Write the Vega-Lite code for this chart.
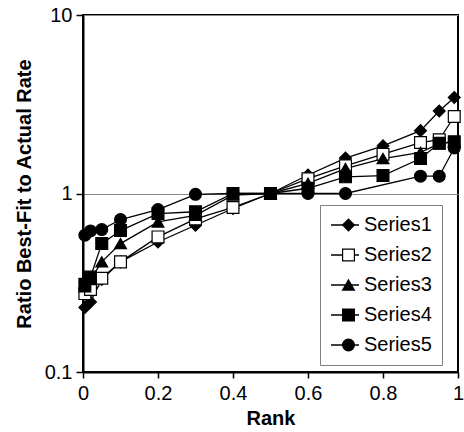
{
  "$schema": "https://vega.github.io/schema/vega-lite/v6.json",
  "width": 375,
  "height": 357,
  "autosize": {"type": "none"},
  "padding": {"left": 83, "top": 15, "right": 6, "bottom": 60},
  "background": "white",
  "config": {
    "font": "Liberation Sans",
    "view": {"stroke": "black", "strokeWidth": 2},
    "axis": {
      "labelFont": "Liberation Sans",
      "titleFont": "Liberation Sans",
      "labelFontSize": 20,
      "titleFontSize": 20,
      "titleFontWeight": "bold",
      "labelColor": "black",
      "titleColor": "black",
      "domainColor": "black",
      "domainWidth": 2,
      "tickColor": "black",
      "tickWidth": 1.5
    },
    "legend": {
      "labelFont": "Liberation Sans",
      "labelFontSize": 20,
      "labelColor": "black"
    }
  },
  "data": {
    "values": [
      {"series": "Series1", "rank": 0.005, "ratio": 0.23},
      {"series": "Series1", "rank": 0.02, "ratio": 0.247},
      {"series": "Series1", "rank": 0.05, "ratio": 0.33},
      {"series": "Series1", "rank": 0.1, "ratio": 0.414},
      {"series": "Series1", "rank": 0.2, "ratio": 0.535},
      {"series": "Series1", "rank": 0.3, "ratio": 0.664},
      {"series": "Series1", "rank": 0.4, "ratio": 0.824},
      {"series": "Series1", "rank": 0.5, "ratio": 1.0},
      {"series": "Series1", "rank": 0.6, "ratio": 1.27},
      {"series": "Series1", "rank": 0.7, "ratio": 1.58},
      {"series": "Series1", "rank": 0.8, "ratio": 1.85},
      {"series": "Series1", "rank": 0.9, "ratio": 2.25},
      {"series": "Series1", "rank": 0.95, "ratio": 2.9},
      {"series": "Series1", "rank": 0.99, "ratio": 3.45},
      {"series": "Series2", "rank": 0.005, "ratio": 0.275},
      {"series": "Series2", "rank": 0.02, "ratio": 0.29},
      {"series": "Series2", "rank": 0.05, "ratio": 0.335},
      {"series": "Series2", "rank": 0.1, "ratio": 0.414},
      {"series": "Series2", "rank": 0.2, "ratio": 0.571},
      {"series": "Series2", "rank": 0.3, "ratio": 0.72},
      {"series": "Series2", "rank": 0.4, "ratio": 0.835},
      {"series": "Series2", "rank": 0.5, "ratio": 1.0},
      {"series": "Series2", "rank": 0.6, "ratio": 1.21},
      {"series": "Series2", "rank": 0.7, "ratio": 1.43},
      {"series": "Series2", "rank": 0.8, "ratio": 1.66},
      {"series": "Series2", "rank": 0.9, "ratio": 1.93},
      {"series": "Series2", "rank": 0.95, "ratio": 2.0},
      {"series": "Series2", "rank": 0.99, "ratio": 2.7},
      {"series": "Series3", "rank": 0.005, "ratio": 0.3},
      {"series": "Series3", "rank": 0.02, "ratio": 0.33},
      {"series": "Series3", "rank": 0.05, "ratio": 0.414},
      {"series": "Series3", "rank": 0.1, "ratio": 0.524},
      {"series": "Series3", "rank": 0.2, "ratio": 0.693},
      {"series": "Series3", "rank": 0.3, "ratio": 0.755},
      {"series": "Series3", "rank": 0.4, "ratio": 0.98},
      {"series": "Series3", "rank": 0.5, "ratio": 1.0},
      {"series": "Series3", "rank": 0.6, "ratio": 1.14},
      {"series": "Series3", "rank": 0.7, "ratio": 1.38},
      {"series": "Series3", "rank": 0.8, "ratio": 1.57},
      {"series": "Series3", "rank": 0.9, "ratio": 1.7},
      {"series": "Series3", "rank": 0.95, "ratio": 1.9},
      {"series": "Series3", "rank": 0.99, "ratio": 1.95},
      {"series": "Series4", "rank": 0.005, "ratio": 0.31},
      {"series": "Series4", "rank": 0.02, "ratio": 0.34},
      {"series": "Series4", "rank": 0.05, "ratio": 0.524},
      {"series": "Series4", "rank": 0.1, "ratio": 0.62},
      {"series": "Series4", "rank": 0.2, "ratio": 0.772},
      {"series": "Series4", "rank": 0.3, "ratio": 0.79},
      {"series": "Series4", "rank": 0.4, "ratio": 1.0},
      {"series": "Series4", "rank": 0.5, "ratio": 1.0},
      {"series": "Series4", "rank": 0.6, "ratio": 1.07},
      {"series": "Series4", "rank": 0.7, "ratio": 1.24},
      {"series": "Series4", "rank": 0.8, "ratio": 1.26},
      {"series": "Series4", "rank": 0.9, "ratio": 1.57},
      {"series": "Series4", "rank": 0.95, "ratio": 1.91},
      {"series": "Series4", "rank": 0.99, "ratio": 1.95},
      {"series": "Series5", "rank": 0.005, "ratio": 0.584},
      {"series": "Series5", "rank": 0.02, "ratio": 0.617},
      {"series": "Series5", "rank": 0.05, "ratio": 0.628},
      {"series": "Series5", "rank": 0.1, "ratio": 0.715},
      {"series": "Series5", "rank": 0.2, "ratio": 0.813},
      {"series": "Series5", "rank": 0.3, "ratio": 0.99},
      {"series": "Series5", "rank": 0.4, "ratio": 1.0},
      {"series": "Series5", "rank": 0.5, "ratio": 1.0},
      {"series": "Series5", "rank": 0.6, "ratio": 1.0},
      {"series": "Series5", "rank": 0.7, "ratio": 1.0},
      {"series": "Series5", "rank": 0.9, "ratio": 1.25},
      {"series": "Series5", "rank": 0.95, "ratio": 1.25},
      {"series": "Series5", "rank": 0.99, "ratio": 1.8}
    ]
  },
  "encoding": {
    "x": {
      "field": "rank",
      "type": "quantitative",
      "scale": {"domain": [0, 1], "nice": false, "zero": false},
      "axis": {
        "title": "Rank",
        "values": [0, 0.2, 0.4, 0.6, 0.8, 1],
        "labelExpr": "'' + datum.value",
        "grid": false,
        "tickSize": 6,
        "labelPadding": 5,
        "titlePadding": 5,
        "labelFlush": false
      }
    },
    "y": {
      "field": "ratio",
      "type": "quantitative",
      "scale": {"type": "log", "domain": [0.1, 10], "nice": false},
      "axis": {
        "title": "Ratio Best-Fit to Actual Rate",
        "values": [0.1, 1, 10],
        "labelExpr": "'' + datum.value",
        "grid": true,
        "gridColor": "#888888",
        "gridWidth": 1,
        "tickSize": 7,
        "labelPadding": 4,
        "titlePadding": 10,
        "labelFlush": false
      }
    }
  },
  "layer": [
    {
      "mark": {"type": "line", "strokeWidth": 1.3},
      "encoding": {
        "color": {
          "field": "series",
          "type": "nominal",
          "scale": {
            "domain": ["Series1", "Series2", "Series3", "Series4", "Series5"],
            "range": ["black", "black", "black", "black", "black"]
          },
          "legend": {
            "title": null,
            "orient": "none",
            "legendX": 237,
            "legendY": 190,
            "padding": 10,
            "strokeColor": "#808080",
            "symbolType": "stroke",
            "symbolSize": 784,
            "symbolStrokeWidth": 1.3,
            "symbolStrokeColor": "black",
            "clipHeight": 20,
            "rowPadding": 10,
            "labelOffset": 4
          }
        }
      }
    },
    {
      "mark": {"type": "point", "size": 140, "stroke": "black", "strokeWidth": 1.2, "opacity": 1, "filled": false},
      "encoding": {
        "fill": {
          "field": "series",
          "type": "nominal",
          "scale": {"range": ["black", "white", "black", "black", "black"]},
          "legend": {
            "title": null,
            "orient": "none",
            "legendX": 245.5,
            "legendY": 190,
            "padding": 10,
            "symbolSize": 140,
            "symbolStrokeWidth": 1.2,
            "symbolStrokeColor": "black",
            "symbolOpacity": 1,
            "clipHeight": 20,
            "rowPadding": 10,
            "labelExpr": "''",
            "encode": {"symbols": {"update": {"stroke": {"value": "black"}, "strokeWidth": {"value": 1.2}}}}
          }
        },
        "shape": {
          "field": "series",
          "type": "nominal",
          "scale": {"range": ["diamond", "square", "triangle-up", "square", "circle"]},
          "legend": {
            "title": null,
            "orient": "none",
            "legendX": 245.5,
            "legendY": 190,
            "padding": 10,
            "symbolSize": 140,
            "symbolStrokeWidth": 1.2,
            "symbolStrokeColor": "black",
            "symbolOpacity": 1,
            "clipHeight": 20,
            "rowPadding": 10,
            "labelExpr": "''",
            "encode": {"symbols": {"update": {"stroke": {"value": "black"}, "strokeWidth": {"value": 1.2}}}}
          }
        }
      }
    }
  ]
}
